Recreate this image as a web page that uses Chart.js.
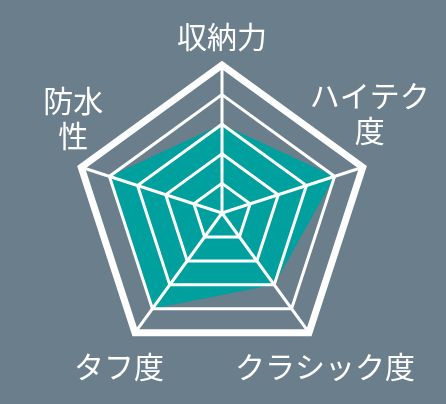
<!DOCTYPE html>
<html><head><meta charset="utf-8">
<style>html,body{margin:0;padding:0;background:#6b7e8c;}#wrap{width:446px;height:404px;}</style>
<script src="https://cdn.jsdelivr.net/npm/chart.js@4.4.1/dist/chart.umd.min.js"></script>
</head><body><div id="wrap"><canvas id="c" width="446" height="404"></canvas></div>
<script>
const categories = [['収納力'], ['ハイテク', '度'], ['クラシック度'], ['タフ度'], ['防水', '性']];
const scores = [3, 4, 3, 4, 4];
const scaleMin = 0;
const scaleMax = 5;
const scaleStep = 1;

// label placement relative to each axis end point (style only)
const labelPlace = [
  {dx: 0, dy: -28},
  {dx: 7, dy: -37},
  {dx: 16, dy: 34},
  {dx: -16, dy: 34},
  {dx: -8, dy: -32}
];
const LINE_H = 35;

const labelPlugin = {
  id: 'centeredPointLabels',
  afterDraw(chart) {
    const s = chart.scales.r;
    const ctx = chart.ctx;
    ctx.save();
    ctx.fillStyle = '#ffffff';
    ctx.font = '400 30px "Noto Sans CJK JP", "Noto Sans", sans-serif';
    ctx.textAlign = 'center';
    ctx.textBaseline = 'middle';
    categories.forEach((lines, i) => {
      const p = s.getPointPosition(i, s.drawingArea);
      const pl = labelPlace[i];
      const n = lines.length;
      lines.forEach((t, k) => {
        let y;
        if (pl.dy < 0) y = p.y + pl.dy - (n - 1 - k) * LINE_H;
        else y = p.y + pl.dy + k * LINE_H;
        ctx.fillText(t, p.x + pl.dx, y);
      });
    });
    ctx.restore();
  }
};

new Chart(document.getElementById('c'), {
  type: 'radar',
  data: {
    labels: categories,
    datasets: [{
      data: scores,
      backgroundColor: '#00a09e',
      borderWidth: 0,
      pointRadius: 0,
      pointHoverRadius: 0,
      fill: true
    }]
  },
  options: {
    responsive: false,
    animation: false,
    devicePixelRatio: 1,
    layout: {padding: {top: 65, bottom: 43, left: 0, right: 2}},
    plugins: {legend: {display: false}, tooltip: {enabled: false}},
    scales: {
      r: {
        min: scaleMin,
        max: scaleMax,
        ticks: {display: false, stepSize: scaleStep},
        grid: {
          z: 1,
          color: '#ffffff',
          lineWidth: (c) => (c.index === 5 ? 7 : 3)
        },
        angleLines: {color: '#ffffff', lineWidth: 3},
        pointLabels: {display: false}
      }
    }
  },
  plugins: [labelPlugin]
});
</script>
</body></html>
